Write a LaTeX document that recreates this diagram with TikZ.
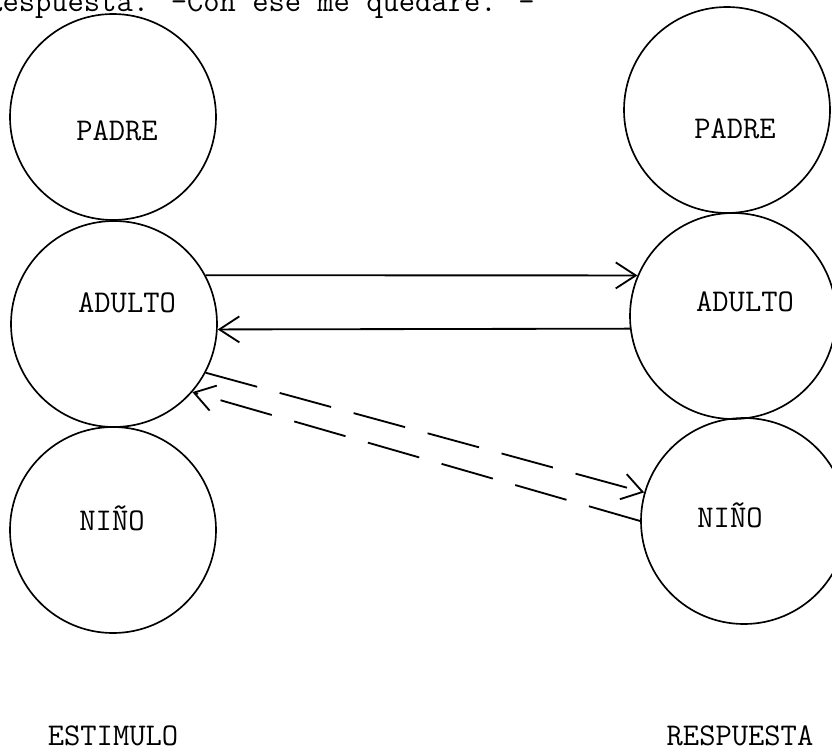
\documentclass[tikz,border=0pt]{standalone}
\usetikzlibrary{arrows.meta}
\begin{document}
\begin{tikzpicture}[
  x=0.3mm, y=-0.3mm,
  ego/.style={circle, draw, line width=0.5mm, minimum size=61.8mm, inner sep=0pt},
  txt/.style={font=\ttfamily\fontsize{27}{30}\selectfont, inner sep=0pt, anchor=base},
  arrow/.style={-{Straight Barb[length=6mm, width=7.8mm, line width=0.55mm]}, line width=0.55mm},
  darrow/.style={arrow, dash pattern=on 16mm off 7mm}
]
\useasboundingbox (0,0) rectangle (832,751);
\clip (0,0) rectangle (832,751);
\node[ego] (padreE)  at (113,117) {};
\node[ego] (adultoE) at (114,324) {};
\node[ego] (ninoE)   at (113,530) {};
\node[ego] (padreR)  at (727,110) {};
\node[ego] (adultoR) at (733,316) {};
\node[ego] (ninoR)   at (744,521) {};
\node[txt] (padreEtxt)  at (117,140) {PADRE};
\node[txt] (adultoEtxt) at (127,312) {ADULTO};
\node[txt] (ninoEtxt)   at (112,530) {NIÑO};
\node[txt] (padreRtxt)  at (735,138) {PADRE};
\node[txt] (adultoRtxt) at (745,311) {ADULTO};
\node[txt] (ninoRtxt)   at (730,527) {NIÑO};
\node[txt] (estimulo)   at (113,745) {ESTIMULO};
\node[txt] (respuesta)  at (740,745) {RESPUESTA};
\node[txt, anchor=base west] (cabecera) at (-14,12) {Respuesta. -Con ese me quedaré. -};
\draw[arrow]  (adultoE.28)  -- (adultoR.157);
\draw[arrow]  (adultoR.187) -- (adultoE.-3);
\draw[darrow] (adultoE.-28) -- (ninoR.164);
\draw[darrow] (ninoR.180)   -- (adultoE.-41);
\end{tikzpicture}
\end{document}
